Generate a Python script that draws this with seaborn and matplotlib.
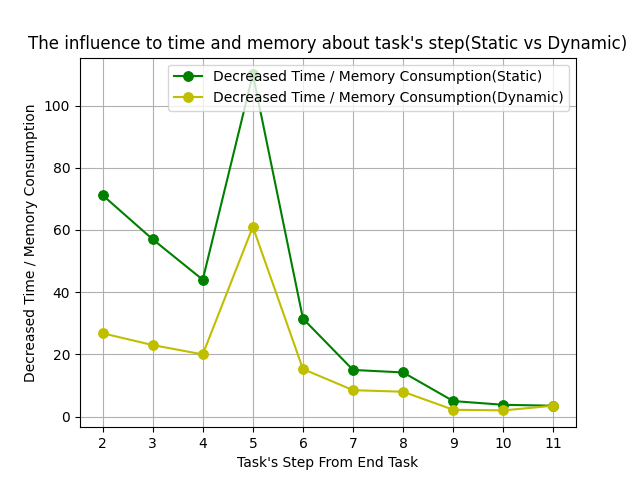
import matplotlib
matplotlib.use("Agg")
import matplotlib.pyplot as plt
import pandas as pd
import seaborn as sns

steps = [2, 3, 4, 5, 6, 7, 8, 9, 10, 11]
static = [71.2, 57.0, 44.0, 110.0, 31.5, 15.0, 14.2, 5.0, 3.8, 3.5]
dynamic = [26.8, 23.0, 20.0, 61.0, 15.3, 8.5, 8.0, 2.2, 2.0, 3.5]

label_s = "Decreased Time / Memory Consumption(Static)"
label_d = "Decreased Time / Memory Consumption(Dynamic)"

df = pd.DataFrame({
    "step": steps * 2,
    "value": static + dynamic,
    "series": [label_s] * len(steps) + [label_d] * len(steps),
})

fig, ax = plt.subplots(figsize=(6.4, 4.8), dpi=100)
sns.lineplot(data=df, x="step", y="value", hue="series", marker="o",
             markeredgecolor=None, markersize=7,
             palette={label_s: "g", label_d: "y"}, ax=ax)
ax.set_xticks(steps)
ax.grid(True)
ax.set_xlabel("Task's Step From End Task")
ax.set_ylabel("Decreased Time / Memory Consumption")
ax.set_title("The influence to time and memory about task's step(Static vs Dynamic)")
ax.legend(loc="upper right")
fig.savefig("out.png")
